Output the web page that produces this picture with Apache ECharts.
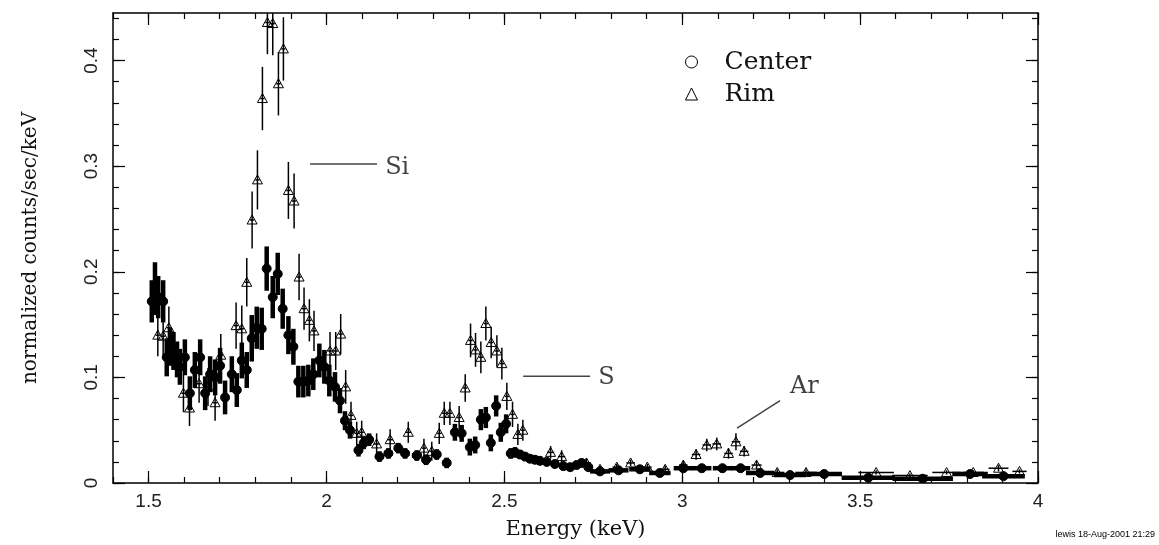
<!DOCTYPE html>
<html>
<head>
<meta charset="utf-8">
<script src="https://cdn.jsdelivr.net/npm/echarts@6/dist/echarts.min.js"></script>
<style>
  html, body { margin: 0; padding: 0; background: #fff; }
  #chart { width: 1159px; height: 545px; }
</style>
</head>
<body>
<div id="chart"></div>
<script>
// tick labels
var xMajor = [1.5, 2, 2.5, 3, 3.5, 4];
var yMajor = [0, 0.1, 0.2, 0.3, 0.4];

// Center spectrum: energy, value, y error, energy half width
var centerE = [1.509, 1.518, 1.527, 1.541, 1.551, 1.560, 1.570, 1.580, 1.588, 1.602,
  1.616, 1.630, 1.645, 1.659, 1.673, 1.687, 1.701, 1.715, 1.734, 1.748,
  1.762, 1.776, 1.790, 1.804, 1.818, 1.832, 1.849, 1.863, 1.877, 1.893,
  1.907, 1.921, 1.935, 1.949, 1.963, 1.980, 1.994, 2.008, 2.024, 2.038,
  2.052, 2.066, 2.090, 2.105, 2.120, 2.149, 2.174, 2.202, 2.221, 2.254,
  2.280, 2.310, 2.338, 2.361, 2.380, 2.403, 2.418, 2.434, 2.448, 2.462,
  2.477, 2.490, 2.505, 2.518, 2.530, 2.544, 2.558, 2.572, 2.586, 2.600,
  2.619, 2.642, 2.666, 2.685, 2.703, 2.717, 2.736, 2.769, 2.821, 2.881,
  2.937, 3.003, 3.055, 3.113, 3.164, 3.219, 3.303, 3.399, 3.523, 3.676,
  3.809, 3.903];
var centerY = [0.172, 0.184, 0.176, 0.172, 0.119, 0.129, 0.125, 0.117, 0.110, 0.119,
  0.085, 0.107, 0.119, 0.085, 0.103, 0.100, 0.111, 0.081, 0.103, 0.088,
  0.116, 0.107, 0.137, 0.147, 0.146, 0.203, 0.176, 0.198, 0.165, 0.140,
  0.129, 0.096, 0.096, 0.097, 0.103, 0.116, 0.110, 0.097, 0.091, 0.078,
  0.059, 0.050, 0.031, 0.038, 0.041, 0.025, 0.028, 0.033, 0.028, 0.026,
  0.022, 0.027, 0.019, 0.048, 0.047, 0.034, 0.036, 0.060, 0.062, 0.038,
  0.073, 0.048, 0.056, 0.028, 0.029, 0.027, 0.025, 0.023, 0.022, 0.021,
  0.020, 0.018, 0.016, 0.015, 0.017, 0.019, 0.015, 0.011, 0.012, 0.013,
  0.0095, 0.014, 0.014, 0.014, 0.014, 0.0095, 0.0075, 0.0085, 0.005, 0.004,
  0.0085, 0.0065];
var centerErr = [0.02, 0.025, 0.02, 0.02, 0.018, 0.018, 0.018, 0.017, 0.017, 0.017,
  0.016, 0.017, 0.017, 0.016, 0.017, 0.017, 0.017, 0.016, 0.017, 0.016,
  0.017, 0.017, 0.022, 0.02, 0.02, 0.021, 0.02, 0.02, 0.019, 0.018,
  0.017, 0.015, 0.015, 0.015, 0.015, 0.016, 0.016, 0.015, 0.014, 0.012,
  0.009, 0.008, 0.006, 0.006, 0.006, 0.005, 0.005, 0.005, 0.005, 0.005,
  0.005, 0.005, 0.005, 0.008, 0.008, 0.008, 0.008, 0.01, 0.01, 0.008,
  0.01, 0.009, 0.009, 0.005, 0.005, 0.004, 0.004, 0.004, 0.004, 0.004,
  0.004, 0.003, 0.003, 0.003, 0.003, 0.003, 0.003, 0.002, 0.002, 0.002,
  0.002, 0.002, 0.002, 0.002, 0.002, 0.002, 0.0015, 0.0015, 0.0015, 0.0015,
  0.0015, 0.0015];
var centerXErr = [0.007, 0.007, 0.007, 0.007, 0.007, 0.007, 0.007, 0.007, 0.007, 0.007,
  0.007, 0.007, 0.007, 0.007, 0.007, 0.007, 0.007, 0.007, 0.007, 0.007,
  0.007, 0.007, 0.007, 0.007, 0.007, 0.007, 0.007, 0.007, 0.007, 0.007,
  0.007, 0.007, 0.007, 0.007, 0.007, 0.007, 0.007, 0.007, 0.007, 0.007,
  0.007, 0.007, 0.01, 0.007, 0.01, 0.012, 0.012, 0.01, 0.012, 0.014,
  0.012, 0.012, 0.012, 0.007, 0.007, 0.007, 0.007, 0.007, 0.007, 0.007,
  0.007, 0.007, 0.007, 0.007, 0.007, 0.007, 0.007, 0.007, 0.007, 0.008,
  0.008, 0.01, 0.01, 0.01, 0.008, 0.008, 0.012, 0.028, 0.028, 0.03,
  0.03, 0.027, 0.027, 0.027, 0.027, 0.04, 0.045, 0.05, 0.075, 0.085,
  0.05, 0.06];

// Rim spectrum
var rimE = [1.526, 1.541, 1.557, 1.598, 1.615, 1.642, 1.667, 1.687, 1.703, 1.746,
  1.762, 1.776, 1.791, 1.806, 1.820, 1.834, 1.849, 1.865, 1.879, 1.893,
  1.909, 1.923, 1.937, 1.952, 1.965, 2.010, 2.026, 2.040, 2.054, 2.069,
  2.085, 2.099, 2.141, 2.179, 2.230, 2.274, 2.296, 2.317, 2.331, 2.347,
  2.373, 2.390, 2.405, 2.419, 2.434, 2.448, 2.463, 2.479, 2.493, 2.507,
  2.523, 2.538, 2.552, 2.630, 2.661, 2.731, 2.769, 2.816, 2.855, 2.902,
  2.952, 3.003, 3.039, 3.069, 3.097, 3.130, 3.151, 3.174, 3.209, 3.267,
  3.348, 3.545, 3.640, 3.743, 3.818, 3.889, 3.948];
var rimY = [0.140, 0.139, 0.147, 0.085, 0.071, 0.094, 0.091, 0.076, 0.121, 0.149,
  0.146, 0.190, 0.249, 0.287, 0.364, 0.436, 0.435, 0.378, 0.411, 0.277,
  0.267, 0.195, 0.165, 0.154, 0.144, 0.125, 0.125, 0.141, 0.091, 0.064,
  0.047, 0.048, 0.037, 0.041, 0.048, 0.033, 0.030, 0.047, 0.066, 0.066,
  0.062, 0.090, 0.135, 0.126, 0.119, 0.151, 0.133, 0.125, 0.113, 0.082,
  0.065, 0.046, 0.050, 0.029, 0.025, 0.019, 0.013, 0.015, 0.019, 0.015,
  0.013, 0.017, 0.027, 0.036, 0.037, 0.028, 0.039, 0.030, 0.017, 0.010,
  0.010, 0.010, 0.007, 0.010, 0.010, 0.014, 0.011];
var rimErr = [0.02, 0.02, 0.02, 0.018, 0.017, 0.018, 0.018, 0.017, 0.02, 0.022,
  0.022, 0.023, 0.027, 0.028, 0.03, 0.03, 0.03, 0.03, 0.03, 0.027,
  0.026, 0.022, 0.02, 0.02, 0.019, 0.018, 0.018, 0.019, 0.016, 0.013,
  0.011, 0.011, 0.01, 0.01, 0.01, 0.009, 0.009, 0.01, 0.011, 0.011,
  0.011, 0.013, 0.016, 0.016, 0.015, 0.016, 0.015, 0.015, 0.015, 0.013,
  0.012, 0.01, 0.01, 0.006, 0.006, 0.004, 0.003, 0.003, 0.003, 0.003,
  0.003, 0.004, 0.005, 0.006, 0.006, 0.005, 0.008, 0.005, 0.004, 0.003,
  0.003, 0.002, 0.002, 0.002, 0.002, 0.003, 0.002];
var rimXErr = [0.006, 0.006, 0.006, 0.006, 0.006, 0.006, 0.006, 0.006, 0.006, 0.006,
  0.006, 0.006, 0.006, 0.006, 0.006, 0.006, 0.006, 0.006, 0.006, 0.006,
  0.006, 0.006, 0.006, 0.006, 0.006, 0.006, 0.006, 0.006, 0.006, 0.006,
  0.006, 0.006, 0.008, 0.008, 0.008, 0.006, 0.006, 0.006, 0.006, 0.006,
  0.006, 0.006, 0.006, 0.006, 0.006, 0.006, 0.006, 0.006, 0.006, 0.006,
  0.006, 0.006, 0.006, 0.01, 0.01, 0.012, 0.012, 0.012, 0.012, 0.012,
  0.012, 0.012, 0.012, 0.012, 0.012, 0.012, 0.012, 0.012, 0.014, 0.02,
  0.03, 0.05, 0.05, 0.04, 0.03, 0.028, 0.02];

// line labels
var lineNames = ['Si', 'S', 'Ar'];
var lineFrom = [[1.954, 0.302], [2.553, 0.101], [3.154, 0.052]];
var lineTo = [[2.142, 0.302], [2.741, 0.101], [3.275, 0.078]];
var lineText = [[2.165, 0.298], [2.764, 0.100], [3.303, 0.0915]];

var xMinor = [];
for (var i = 14; i <= 40; i++) xMinor.push(i / 10);
var yMinor = [];
for (var j = 0; j <= 22; j++) yMinor.push(j / 50);

function pack(e, y, dx, dy) {
  var out = [];
  for (var k = 0; k < e.length; k++) out.push([e[k], y[k], dx[k], dy[k]]);
  return out;
}

function errRender(kind) {
  return function (params, api) {
    var x = api.value(0), y = api.value(1), dx = api.value(2), dy = api.value(3);
    var c = api.coord([x, y]);
    var l = api.coord([x - dx, y]);
    var r = api.coord([x + dx, y]);
    var t = api.coord([x, y + dy]);
    var b = api.coord([x, y - dy]);
    var w = kind === 'center' ? 4.5 : 1.5;
    var kids = [
      { type: 'line', shape: { x1: l[0], y1: c[1], x2: r[0], y2: c[1] }, style: { stroke: '#000', lineWidth: w } },
      { type: 'line', shape: { x1: c[0], y1: t[1], x2: c[0], y2: b[1] }, style: { stroke: '#000', lineWidth: w } }
    ];
    if (kind === 'center') {
      kids.push({ type: 'circle', shape: { cx: c[0], cy: c[1], r: 4.5 }, style: { fill: '#000', stroke: '#000', lineWidth: 1 } });
    } else {
      kids.push({ type: 'polygon', shape: { points: [[c[0] - 5, c[1] + 4], [c[0] + 5, c[1] + 4], [c[0], c[1] - 5]] },
        style: { fill: 'none', stroke: '#000', lineWidth: 1 } });
    }
    return { type: 'group', children: kids };
  };
}

var tickLine = { color: '#000', width: 1.2 };
function xAx(pos, major) {
  return {
    type: 'value', min: 1.4, max: 4, position: pos,
    axisLine: { show: major, onZero: false, lineStyle: { color: '#000', width: 1.5 } },
    axisTick: { inside: true, length: major ? 12 : 6, customValues: major ? xMajor : xMinor, lineStyle: tickLine },
    axisLabel: { show: major && pos === 'bottom', customValues: xMajor, margin: 9,
      fontFamily: 'Liberation Sans', fontSize: 19, color: '#222' },
    splitLine: { show: false },
    name: major && pos === 'bottom' ? 'Energy (keV)' : '',
    nameLocation: 'middle', nameGap: 36,
    nameTextStyle: { fontFamily: 'DejaVu Serif', fontSize: 21, color: '#111' }
  };
}
function yAx(pos, major) {
  return {
    type: 'value', min: 0, max: 0.445, position: pos,
    axisLine: { show: major, onZero: false, lineStyle: { color: '#000', width: 1.5 } },
    axisTick: { inside: true, length: major ? 12 : 6, customValues: major ? yMajor : yMinor, lineStyle: tickLine },
    axisLabel: { show: major && pos === 'left', customValues: yMajor, rotate: 90, margin: 12,
      fontFamily: 'Liberation Sans', fontSize: 19, color: '#222' },
    splitLine: { show: false },
    name: major && pos === 'left' ? 'normalized counts/sec/keV' : '',
    nameLocation: 'middle', nameGap: 72,
    nameTextStyle: { fontFamily: 'DejaVu Serif', fontSize: 20, color: '#111' }
  };
}

var annoSeries = [];
for (var n = 0; n < lineNames.length; n++) {
  annoSeries.push({
    type: 'line', xAxisIndex: 0, yAxisIndex: 0, silent: true, symbol: 'none',
    lineStyle: { color: '#444', width: 1.5 },
    data: [lineFrom[n], lineTo[n]]
  });
}
annoSeries.push({
  type: 'scatter', xAxisIndex: 0, yAxisIndex: 0, silent: true, symbolSize: 0,
  data: lineNames.map(function (nm, q) { return { name: nm, value: lineText[q] }; }),
  label: { show: true, position: 'inside', align: 'left', formatter: '{b}',
    fontFamily: 'DejaVu Serif', fontSize: 24, color: '#111' }
});

var chart = echarts.init(document.getElementById('chart'));
chart.setOption({
  animation: false,
  backgroundColor: '#fff',
  grid: { left: 113, right: 121, top: 13, bottom: 62 },
  xAxis: [xAx('bottom', true), xAx('bottom', false), xAx('top', true), xAx('top', false)],
  yAxis: [yAx('left', true), yAx('left', false), yAx('right', true), yAx('right', false)],
  legend: {
    orient: 'vertical', left: 680, top: 44, itemWidth: 12, itemHeight: 12, itemGap: 6,
    textStyle: { fontFamily: 'DejaVu Serif', fontSize: 25, color: '#111', padding: [0, 0, 0, 22], lineHeight: 26 },
    data: [
      { name: 'Center', icon: 'circle', itemStyle: { color: '#fff', borderColor: '#000', borderWidth: 1 } },
      { name: 'Rim', icon: 'triangle', itemStyle: { color: '#fff', borderColor: '#000', borderWidth: 1 } }
    ]
  },
  graphic: [{
    type: 'text', right: 4, top: 530,
    style: { text: 'lewis 18-Aug-2001 21:29', fontFamily: 'Liberation Sans', fontSize: 9, fill: '#000' }
  }],
  series: [
    { name: 'Center', type: 'custom', clip: true, xAxisIndex: 0, yAxisIndex: 0,
      encode: { x: 0, y: 1 }, renderItem: errRender('center'),
      data: pack(centerE, centerY, centerXErr, centerErr) },
    { name: 'Rim', type: 'custom', clip: true, xAxisIndex: 0, yAxisIndex: 0,
      encode: { x: 0, y: 1 }, renderItem: errRender('rim'),
      data: pack(rimE, rimY, rimXErr, rimErr) }
  ].concat(annoSeries)
});
</script>
</body>
</html>
